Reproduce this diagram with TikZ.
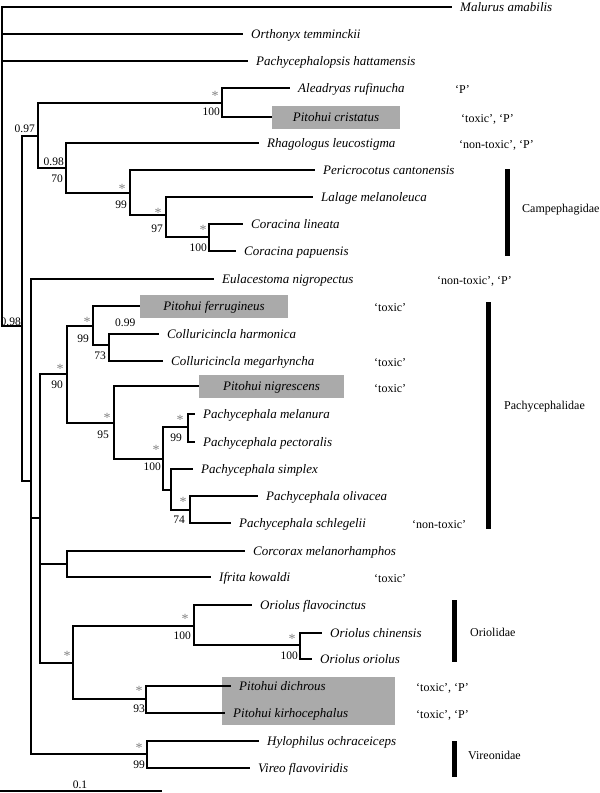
\documentclass[tikz,border=0pt]{standalone}
\usepackage{fontspec}
\setmainfont{Liberation Serif}
\usetikzlibrary{calc}
\definecolor{hlgray}{RGB}{170,170,170}
\definecolor{stargray}{RGB}{130,130,130}
\begin{document}
\begin{tikzpicture}[x=1pt,y=-1pt,
  br/.style={line width=2.8pt, line join=miter},
  tax/.style={anchor=west, inner xsep=8pt, inner ysep=0pt, text height=8.5pt, text depth=0pt, font=\fontsize{13}{15}\selectfont\itshape},
  hl/.style={fill=hlgray, inner sep=0pt, text height=8.5pt, text depth=0pt, font=\fontsize{13}{15}\selectfont\itshape},
  annot/.style={anchor=base west, inner sep=0pt, font=\fontsize{12}{14}\selectfont},
  fam/.style={anchor=base west, inner sep=0pt, font=\fontsize{12}{14}\selectfont},
  fbar/.style={line width=5pt},
  bstar/.style={inner sep=0pt, text=stargray, font=\fontsize{14}{14}\selectfont},
  bnum/.style={anchor=base east, inner sep=0pt, font=\fontsize{11.5}{13}\selectfont}]
\useasboundingbox (0,0) rectangle (600,793);

% highlight boxes (background)
\node[fill=hlgray, minimum width=173pt, minimum height=48pt, inner sep=0pt] (pbox) at (308.5,701) {};
\node[hl, minimum width=128pt, minimum height=23pt] (tCri) at (336,117) {Pitohui cristatus};
\node[hl, minimum width=148pt, minimum height=23pt] (tFer) at (214,306) {Pitohui ferrugineus};
\node[hl, minimum width=145pt, minimum height=23pt] (tNig) at (271.5,386) {Pitohui nigrescens};

% internal nodes
\coordinate (root) at (2,166);
\coordinate (nA) at (22,326);
\coordinate (nB) at (38,136);
\coordinate (nD) at (222,103);
\coordinate (nE) at (66,168);
\coordinate (nF) at (130,193);
\coordinate (nG) at (166,215);
\coordinate (nH) at (209,237);
\coordinate (nC) at (31,481);
\coordinate (nI) at (40,518);
\coordinate (nJ) at (67,374);
\coordinate (nM) at (93,326);
\coordinate (nO) at (109,345);
\coordinate (nN) at (114,423);
\coordinate (nP) at (163,459);
\coordinate (nQ) at (188,427);
\coordinate (nR) at (171,490);
\coordinate (nS) at (190,510);
\coordinate (nK) at (67,564);
\coordinate (nL) at (73,663);
\coordinate (nT) at (194,626);
\coordinate (nU) at (300,645);
\coordinate (nW) at (146,699);
\coordinate (nV) at (147,754);

% tips
\node[tax] (tMal) at (452,7) {Malurus amabilis};
\node[tax] (tOrt) at (243,34) {Orthonyx temminckii};
\node[tax] (tPhp) at (248,61) {Pachycephalopsis hattamensis};
\node[tax] (tAle) at (290,88) {Aleadryas rufinucha};
\node[tax] (tRha) at (259,143) {Rhagologus leucostigma};
\node[tax] (tPer) at (315,170) {Pericrocotus cantonensis};
\node[tax] (tLal) at (313,197) {Lalage melanoleuca};
\node[tax] (tCli) at (243,224) {Coracina lineata};
\node[tax] (tCpa) at (236,251) {Coracina papuensis};
\node[tax] (tEul) at (214,279) {Eulacestoma nigropectus};
\node[tax] (tCha) at (159,334) {Colluricincla harmonica};
\node[tax] (tCme) at (163,361) {Colluricincla megarhyncha};
\node[tax] (tPme) at (195,414) {Pachycephala melanura};
\node[tax] (tPpe) at (195,442) {Pachycephala pectoralis};
\node[tax] (tPsi) at (193,469) {Pachycephala simplex};
\node[tax] (tPol) at (258,496) {Pachycephala olivacea};
\node[tax] (tPsc) at (231,523) {Pachycephala schlegelii};
\node[tax] (tCor) at (245,551) {Corcorax melanorhamphos};
\node[tax] (tIfr) at (211,577) {Ifrita kowaldi};
\node[tax] (tOfl) at (252,605) {Oriolus flavocinctus};
\node[tax] (tOch) at (322,633) {Oriolus chinensis};
\node[tax] (tOor) at (312,659) {Oriolus oriolus};
\node[tax] (tPdi) at (231,686) {Pitohui dichrous};
\node[tax] (tPki) at (225,713) {Pitohui kirhocephalus};
\node[tax] (tHyl) at (259,741) {Hylophilus ochraceiceps};
\node[tax] (tVir) at (250,768) {Vireo flavoviridis};

% branches
\draw[br] (root) |- (tMal.west);
\draw[br] (root) |- (tOrt.west);
\draw[br] (root) |- (tPhp.west);
\draw[br] (root) |- (nA);
\draw[br] (nA) |- (nB);
\draw[br] (nA) |- (nC);
\draw[br] (nB) |- (nD);
\draw[br] (nB) |- (nE);
\draw[br] (nD) |- (tAle.west);
\draw[br] (nD) |- (tCri.west);
\draw[br] (nE) |- (tRha.west);
\draw[br] (nE) |- (nF);
\draw[br] (nF) |- (tPer.west);
\draw[br] (nF) |- (nG);
\draw[br] (nG) |- (tLal.west);
\draw[br] (nG) |- (nH);
\draw[br] (nH) |- (tCli.west);
\draw[br] (nH) |- (tCpa.west);
\draw[br] (nC) |- (tEul.west);
\draw[br] (nC) |- (nI);
\draw[br] (nC) |- (nV);
\draw[br] (nI) |- (nJ);
\draw[br] (nI) |- (nK);
\draw[br] (nI) |- (nL);
\draw[br] (nJ) |- (nM);
\draw[br] (nJ) |- (nN);
\draw[br] (nM) |- (tFer.west);
\draw[br] (nM) |- (nO);
\draw[br] (nO) |- (tCha.west);
\draw[br] (nO) |- (tCme.west);
\draw[br] (nN) |- (tNig.west);
\draw[br] (nN) |- (nP);
\draw[br] (nP) |- (nQ);
\draw[br] (nP) |- (nR);
\draw[br] (nQ) |- (tPme.west);
\draw[br] (nQ) |- (tPpe.west);
\draw[br] (nR) |- (tPsi.west);
\draw[br] (nR) |- (nS);
\draw[br] (nS) |- (tPol.west);
\draw[br] (nS) |- (tPsc.west);
\draw[br] (nK) |- (tCor.west);
\draw[br] (nK) |- (tIfr.west);
\draw[br] (nL) |- (nT);
\draw[br] (nL) |- (nW);
\draw[br] (nT) |- (tOfl.west);
\draw[br] (nT) |- (nU);
\draw[br] (nU) |- (tOch.west);
\draw[br] (nU) |- (tOor.west);
\draw[br] (nW) |- (tPdi.west);
\draw[br] (nW) |- (tPki.west);
\draw[br] (nV) |- (tHyl.west);
\draw[br] (nV) |- (tVir.west);

% posterior / bootstrap values
\node[bnum] (pA) at (21,325) {0.98};
\node[bnum] (pB) at (35,132) {0.97};
\node[bnum] (pE) at (64,165) {0.98};
\node[bnum] (bE) at (63,182) {70};
\node[bnum, anchor=base west] (pO) at (115,326) {0.99};
\node[bstar] (sD) at (215,96) {*};   \node[bnum] (bD) at (220,115) {100};
\node[bstar] (sF) at (122,189) {*};  \node[bnum] (bF) at (127,208) {99};
\node[bstar] (sG) at (158,213) {*};  \node[bnum] (bG) at (163,232) {97};
\node[bstar] (sH) at (203,230) {*};  \node[bnum] (bH) at (207,251) {100};
\node[bstar] (sM) at (87,322) {*};   \node[bnum] (bM) at (89,342) {99};
\node[bstar] (sJ) at (60,369) {*};   \node[bnum] (bJ) at (63,388) {90};
\node[bnum] (bO) at (106,359) {73};
\node[bstar] (sN) at (107,418) {*};  \node[bnum] (bN) at (109,438) {95};
\node[bstar] (sP) at (156,450) {*};  \node[bnum] (bP) at (161,470) {100};
\node[bstar] (sQ) at (180,420) {*};  \node[bnum] (bQ) at (182,441) {99};
\node[bstar] (sS) at (183,502) {*};  \node[bnum] (bS) at (185,523) {74};
\node[bstar] (sL) at (67,656) {*};
\node[bstar] (sT) at (185,619) {*};  \node[bnum] (bT) at (191,639) {100};
\node[bstar] (sU) at (292,639) {*};  \node[bnum] (bU) at (298,659) {100};
\node[bstar] (sW) at (139,691) {*};  \node[bnum] (bW) at (145,712) {93};
\node[bstar] (sV) at (139,748) {*};  \node[bnum] (bV) at (145,768) {99};

% annotations
\node[annot] (a1) at (455,93) {‘P’};
\node[annot] (a2) at (461,122) {‘toxic’, ‘P’};
\node[annot] (a3) at (459,148) {‘non-toxic’, ‘P’};
\node[annot] (a4) at (437,284) {‘non-toxic’, ‘P’};
\node[annot] (a5) at (374,311) {‘toxic’};
\node[annot] (a6) at (374,366) {‘toxic’};
\node[annot] (a7) at (374,392) {‘toxic’};
\node[annot] (a8) at (412,528) {‘non-toxic’};
\node[annot] (a9) at (374,582) {‘toxic’};
\node[annot] (a10) at (416,691) {‘toxic’, ‘P’};
\node[annot] (a11) at (416,718) {‘toxic’, ‘P’};

% family bars
\coordinate (fc1) at (507.5,169); \coordinate (fc2) at (507.5,256);
\draw[fbar] (fc1) -- (fc2);
\node[fam] (fCam) at (522,212) {Campephagidae};
\coordinate (fp1) at (488.5,302); \coordinate (fp2) at (488.5,529);
\draw[fbar] (fp1) -- (fp2);
\node[fam] (fPac) at (504,409) {Pachycephalidae};
\coordinate (fo1) at (454.5,600); \coordinate (fo2) at (454.5,662);
\draw[fbar] (fo1) -- (fo2);
\node[fam] (fOri) at (470,636) {Oriolidae};
\coordinate (fv1) at (454.5,741); \coordinate (fv2) at (454.5,777);
\draw[fbar] (fv1) -- (fv2);
\node[fam] (fVir) at (468,759) {Vireonidae};

% scale bar
\coordinate (sb1) at (0,791); \coordinate (sb2) at (162,791);
\draw[br] (sb1) -- (sb2);
\node[anchor=base, inner sep=0pt, font=\fontsize{11.5}{13}\selectfont] (sbl) at (80,788) {0.1};
\end{tikzpicture}
\end{document}
